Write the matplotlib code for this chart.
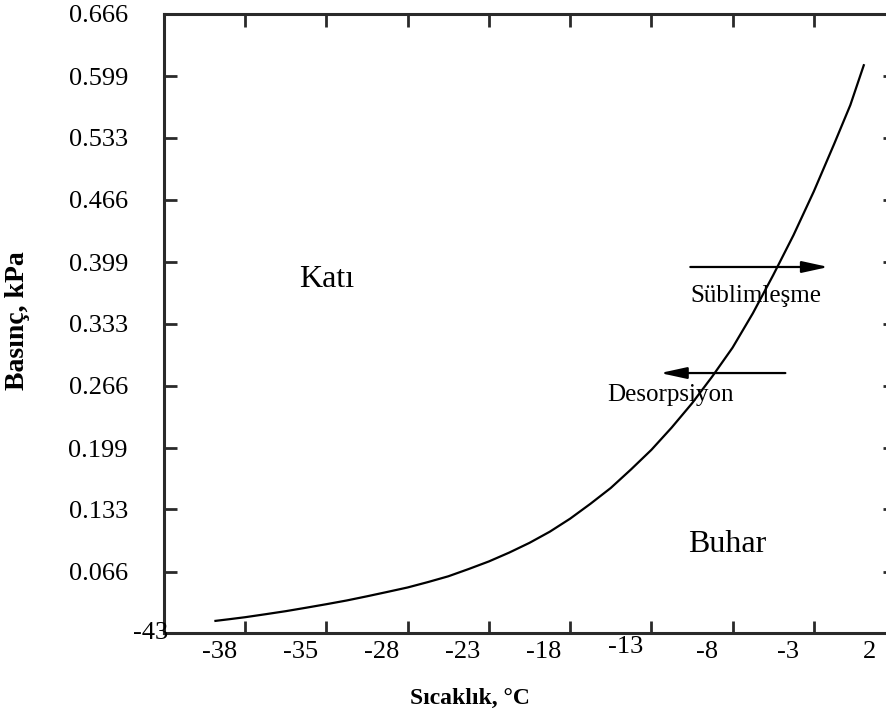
import matplotlib
matplotlib.use("Agg")
import matplotlib.pyplot as plt
from matplotlib.transforms import ScaledTranslation

plt.rcParams['font.family'] = ['Liberation Serif', 'DejaVu Serif']

# ---- data ----
# x in axis-division units (0 = left frame, 1 division per labelled step)
curve_x = [0.62, 0.8, 1.0, 1.25, 1.5, 1.75, 2.0, 2.25, 2.5, 2.75, 3.0, 3.25, 3.5, 3.75, 4.0, 4.25,
           4.5, 4.75, 5.0, 5.25, 5.5, 5.75, 6.0, 6.25, 6.5, 6.75, 7.0, 7.25, 7.5, 7.75, 8.0, 8.25,
           8.45, 8.62]
curve_p = [0.0129, 0.0148, 0.017, 0.0202, 0.0235, 0.0272, 0.031, 0.035, 0.0395, 0.0442, 0.049,
           0.0548, 0.061, 0.0688, 0.077, 0.0865, 0.097, 0.109, 0.123, 0.139, 0.156, 0.176, 0.197,
           0.221, 0.247, 0.276, 0.307, 0.344, 0.385, 0.428, 0.475, 0.526, 0.568, 0.612]
x_tick_labels = ['-43', '-38', '-35', '-28', '-23', '-18', '-13', '-8', '-3', '2']
y_tick_values = [0.066, 0.133, 0.199, 0.266, 0.333, 0.399, 0.466, 0.533, 0.599, 0.666]
y_tick_labels = ['0.066', '0.133', '0.199', '0.266', '0.333', '0.399', '0.466', '0.533', '0.599', '0.666']

W, H = 887, 721
fig = plt.figure(figsize=(W / 100, H / 100), dpi=100)
ax = fig.add_axes([164 / W, (H - 633) / H, 731 / W, 619 / H])

ax.plot(curve_x, curve_p, color='black', lw=1.6, solid_capstyle='butt', solid_joinstyle='round')

ax.set_xlim(0, 9)
ax.set_ylim(0, 0.666)

spine_col = '#2a2a2a'
for s in ax.spines.values():
    s.set_linewidth(2.2)
    s.set_color(spine_col)

# tick marks (unlabelled) at the division lines
ax.set_xticks(range(1, 9))
ax.set_xticklabels([])
ax.tick_params(axis='x', which='major', direction='in', length=9, width=2,
               color=spine_col, top=True, bottom=True)
# labels, set a little to the left of the marks as in the original
n = len(x_tick_labels)
ax.set_xticks([k - 0.32 for k in range(1, n)], minor=True)
ax.set_xticklabels(x_tick_labels[1:], minor=True)
ax.tick_params(axis='x', which='minor', length=0, pad=6, labelsize=19)
for lbl in ax.get_xticklabels(minor=True):
    if lbl.get_text() == '-13':
        lbl.set_transform(lbl.get_transform() + ScaledTranslation(0, 4 / 72, fig.dpi_scale_trans))

ax.text(-0.17, 0.0, x_tick_labels[0], ha='center', va='center', fontsize=19, clip_on=False)

ax.set_yticks(y_tick_values)
ax.set_yticklabels(y_tick_labels)
ax.tick_params(axis='y', direction='in', length=9, width=2, color=spine_col,
               left=True, right=True, pad=26, labelsize=19)

ax.set_xlabel('Sıcaklık, °C', fontsize=17, fontweight='bold')
ax.set_ylabel('Basınç, kPa', fontsize=20, fontweight='bold')
ax.xaxis.set_label_coords(306 / 731, -55 / 619)
ax.yaxis.set_label_coords(-134 / 731, 0.505)

# region labels
ax.text(2.0, 0.380, 'Katı', ha='center', va='center', fontsize=23)
ax.text(6.93, 0.0947, 'Buhar', ha='center', va='center', fontsize=23)

# arrows
arrow_style = dict(arrowstyle='-|>,head_length=1.6,head_width=0.35', color='black', lw=1.6,
                   shrinkA=0, shrinkB=0)
ax.annotate('', xy=(8.18, 0.3938), xytext=(6.48, 0.3938), arrowprops=arrow_style)
ax.annotate('', xy=(6.11, 0.2797), xytext=(7.65, 0.2797), arrowprops=arrow_style)
ax.text(6.48, 0.3626, 'Süblimleşme', ha='left', va='center', fontsize=18)
ax.text(5.46, 0.256, 'Desorpsiyon', ha='left', va='center', fontsize=18)

fig.savefig('out.png', dpi=100)
